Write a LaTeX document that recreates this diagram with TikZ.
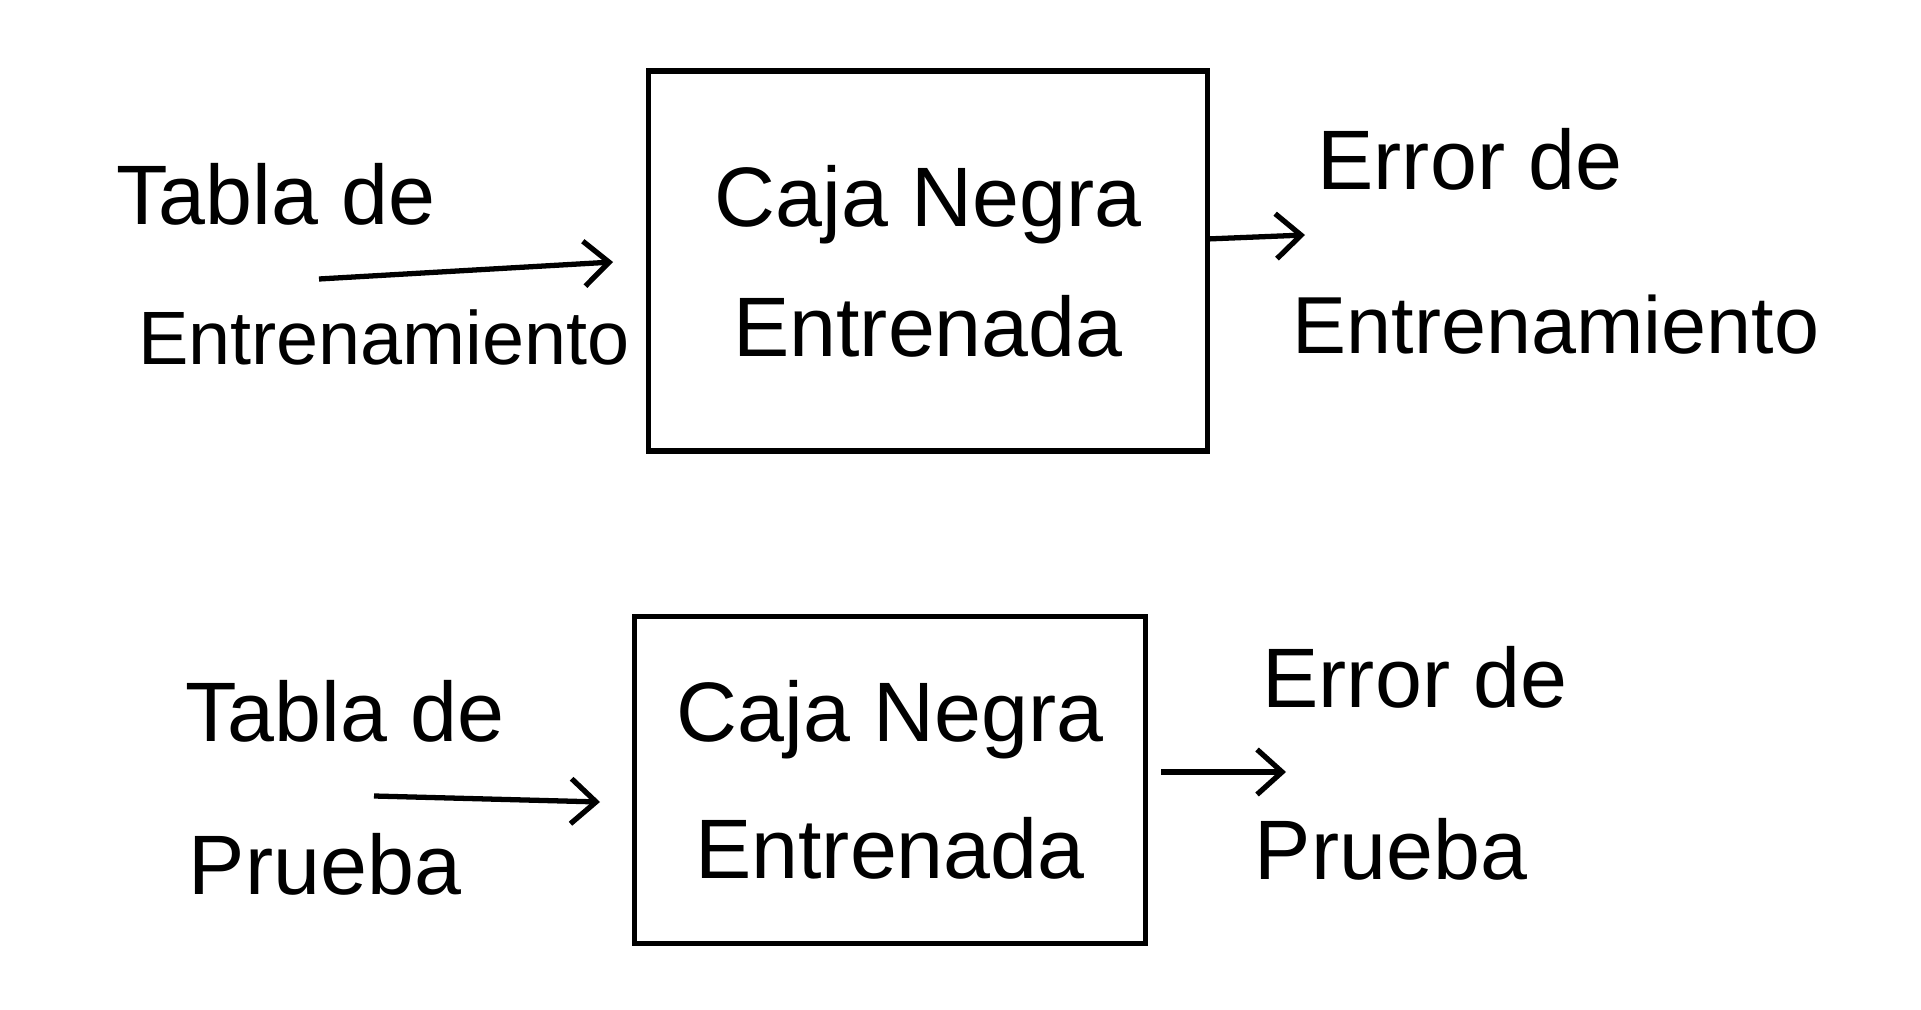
\documentclass[tikz,border=0pt]{standalone}
\usepackage{fontspec}
\setmainfont{Liberation Sans}
\usetikzlibrary{arrows.meta,positioning}

\begin{document}
\begin{tikzpicture}[
    x=0.01cm, y=-0.01cm,
    box/.style={
        draw,
        line width=1.5pt,
        align=center,
        font=\fontsize{24}{37}\selectfont
    },
    txt/.style={inner sep=0pt, font=\fontsize{24}{29}\selectfont},
    arrow/.style={-{Straight Barb[length=2.5mm, width=4.5mm]}, line width=1.5pt}
]
\useasboundingbox (0,0) rectangle (1921,1010);

% fila de entrenamiento
\node[box, minimum width=5.58cm, minimum height=3.8cm] (caja1) at (928,261) {Caja Negra\\Entrenada};
\node[txt] (tabla1) at (276,194) {Tabla de};
\node[txt, font=\fontsize{21.5}{26}\selectfont] (datos1) at (384,337) {Entrenamiento};
\node[txt] (error1) at (1470,159) {Error de};
\node[txt, font=\fontsize{23}{28}\selectfont] (salida1) at (1556,325) {Entrenamiento};
\coordinate (in1a) at (319,279);
\coordinate (in1b) at (613,262);
\coordinate (out1a) at (1207,239);
\coordinate (out1b) at (1305,235);

\draw[arrow] (in1a) -- (in1b);
\draw[arrow] (out1a) -- (out1b);

% fila de prueba
\node[box, minimum width=5.10cm, minimum height=3.27cm] (caja2) at (890,780) {Caja Negra\\[2pt]Entrenada};
\node[txt] (tabla2) at (345,711) {Tabla de};
\node[txt] (datos2) at (325,864) {Prueba};
\node[txt] (error2) at (1415,677) {Error de};
\node[txt] (salida2) at (1391,849) {Prueba};
\coordinate (in2a) at (374,796);
\coordinate (in2b) at (600,802);
\coordinate (out2a) at (1161,772);
\coordinate (out2b) at (1286,772);

\draw[arrow] (in2a) -- (in2b);
\draw[arrow] (out2a) -- (out2b);
\end{tikzpicture}
\end{document}
